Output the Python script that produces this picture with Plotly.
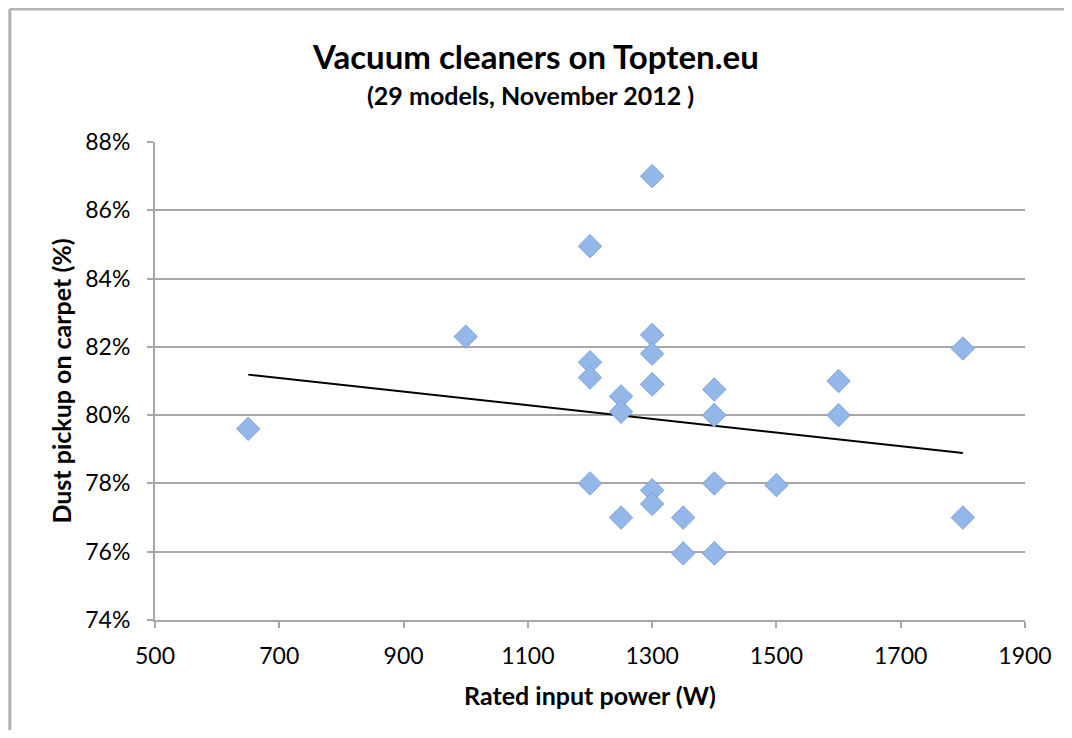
import numpy as np
import plotly.graph_objects as go

power_w = [650, 1000, 1200, 1200, 1200, 1200, 1250, 1250, 1250,
           1300, 1300, 1300, 1300, 1300, 1300, 1300,
           1350, 1350, 1400, 1400, 1400, 1400, 1400, 1400,
           1500, 1600, 1600, 1800, 1800]
dust_pct = [79.6, 82.3, 84.95, 81.55, 81.1, 78.0, 80.55, 80.1, 77.0,
            87.0, 82.35, 81.8, 80.9, 80.9, 77.8, 77.4,
            77.0, 75.95, 80.75, 80.0, 80.0, 78.0, 75.95, 75.95,
            77.95, 81.0, 80.0, 81.95, 77.0]

x_ticks = [500, 700, 900, 1100, 1300, 1500, 1700, 1900]
y_ticks = [74, 76, 78, 80, 82, 84, 86, 88]
y_tick_labels = [f"{v}%" for v in y_ticks]

title_text = "Vacuum cleaners on Topten.eu"
subtitle_text = "(29 models, November 2012 )"

slope, intercept = np.polyfit(power_w, dust_pct, 1)
trend_x = [min(power_w), max(power_w)]
trend_y = [slope * v + intercept for v in trend_x]

FONT = "Lato, Carlito, 'Open Sans', sans-serif"

fig = go.Figure()
fig.add_trace(go.Scatter(
    x=trend_x, y=trend_y, mode="lines",
    line=dict(color="black", width=2), hoverinfo="skip", showlegend=False))
fig.add_trace(go.Scatter(
    x=power_w, y=dust_pct, mode="markers",
    marker=dict(symbol="diamond", size=18, color="#93b7e8",
                line=dict(color="#80a4d8", width=1)),
    showlegend=False))

border = dict(color="#b3b3b3", width=3)
fig.update_layout(
    width=1056, height=722,
    margin=dict(l=147, r=34, t=134, b=110),
    paper_bgcolor="white", plot_bgcolor="white",
    font=dict(family=FONT, color="black", size=23),
    xaxis=dict(range=[500, 1900], tickvals=x_ticks, ticks="outside",
               ticklen=6, tickcolor="#a6a6a6", tickwidth=2,
               showgrid=False, showline=True, linecolor="#a6a6a6", linewidth=2,
               zeroline=False, tickfont=dict(size=23), ticklabelstandoff=8,
               title=dict(text="<b>Rated input power (W)</b>", font=dict(size=25), standoff=20)),
    yaxis=dict(range=[74, 88], tickvals=y_ticks, ticktext=y_tick_labels,
               ticks="outside", ticklen=6, tickcolor="#a6a6a6", tickwidth=2,
               showgrid=True, gridcolor="#a8a8a8", gridwidth=2,
               showline=True, linecolor="#a6a6a6", linewidth=2,
               zeroline=False, tickfont=dict(size=23), ticklabelstandoff=12,
               title=dict(text="<b>Dust pickup on carpet (%)</b>", font=dict(size=25), standoff=7)),
    annotations=[
        dict(text=f"<b>{title_text}</b>", xref="paper", yref="paper",
             x=0.4377, y=1.0, yshift=86, showarrow=False, font=dict(size=33),
             xanchor="center", yanchor="middle"),
        dict(text=f"<b>{subtitle_text}</b>", xref="paper", yref="paper",
             x=0.432, y=1.0, yshift=47, showarrow=False, font=dict(size=25),
             xanchor="center", yanchor="middle"),
    ],
    shapes=[
        dict(type="line", xref="paper", yref="paper",
             x0=-0.1669, x1=1.2, y0=1.278, y1=1.278, line=border, layer="below"),
        dict(type="line", xref="paper", yref="paper",
             x0=-0.1669, x1=-0.1669, y0=-0.3, y1=1.278, line=border, layer="below"),
    ],
)

fig.write_html("out.html")
